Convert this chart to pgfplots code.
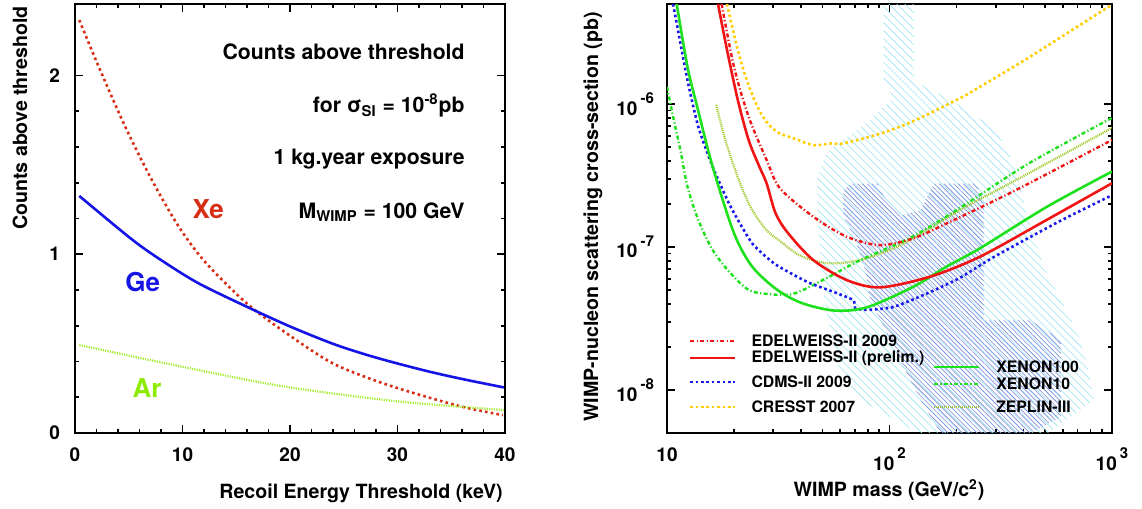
\documentclass[border=0pt]{standalone}
\usepackage{fontspec}
\setmainfont{TeX Gyre Heros}
\usepackage{pgfplots}
\pgfplotsset{compat=1.18}
\usetikzlibrary{patterns.meta}

\definecolor{xered}{RGB}{215,45,20}
\definecolor{geblue}{RGB}{20,20,230}
\definecolor{argreen}{RGB}{165,235,50}
\definecolor{arlabel}{RGB}{140,235,0}
\definecolor{edred}{RGB}{240,20,20}
\definecolor{cdblue}{RGB}{25,25,235}
\definecolor{cryellow}{RGB}{255,205,0}
\definecolor{xngreen}{RGB}{30,225,30}
\definecolor{zpolive}{RGB}{160,200,40}
\definecolor{hatchcyan}{RGB}{150,228,240}
\definecolor{hatchblue}{RGB}{125,135,222}

\tikzset{
  ed09/.style={edred, line width=1.2pt, dash pattern=on 2pt off 1.2pt on 0.6pt off 1.2pt},
  edpre/.style={edred, line width=1.3pt},
  cdms/.style={cdblue, line width=1.3pt, dash pattern=on 1.3pt off 1.4pt},
  cresst/.style={cryellow, line width=1.3pt, dash pattern=on 1.3pt off 1.4pt},
  xn100/.style={xngreen, line width=1.3pt},
  xn10/.style={xngreen, line width=1.2pt, dash pattern=on 2pt off 1.2pt on 0.6pt off 1.2pt},
  zep/.style={zpolive, line width=1.1pt, dash pattern=on 0.5pt off 0.5pt},
  legtext/.style={anchor=west, inner sep=0pt, font=\bfseries\fontsize{7.9}{8}\selectfont},
}

\pgfplotsset{
  panel/.style={
    scale only axis, anchor=south west,
    tick align=inside, tick pos=both,
    axis line style={line width=1.2pt},
    tick style={black, line width=0.9pt},
    major tick length=4pt, minor tick length=2.2pt,
    tick label style={font=\bfseries\fontsize{9.5}{10}\selectfont},
    clip=true,
  },
}

\newcommand{\expo}[1]{\,\raisebox{0.6em}{\fontsize{7.5}{8}\selectfont #1}}

\begin{document}
\begin{tikzpicture}[font=\bfseries]
\path[use as bounding box] (0,0) rectangle (571pt,254.5pt);

% left panel: counts above threshold
\begin{axis}[panel,
  at={(37.5pt,38pt)}, width=215pt, height=214.5pt,
  xmin=0, xmax=40, ymin=0, ymax=2.4,
  xtick={0,10,20,30,40}, ytick={0,1,2},
  minor x tick num=4, minor y tick num=4,
  /pgf/number format/assume math mode=true,
  xticklabel style={yshift=-4pt}, yticklabel style={xshift=-4pt},
]
\addplot[xered, line width=1.3pt, dash pattern=on 1.3pt off 1.6pt, smooth] coordinates {
  (0.4,2.31) (2.2,2.05) (4.7,1.71) (7.2,1.41) (9.7,1.15) (12.2,0.95) (16,0.724)
  (19.7,0.557) (24,0.389) (28.7,0.277) (33.4,0.19) (36.5,0.14) (39.8,0.10)};
\addplot[geblue, line width=1.3pt, smooth] coordinates {
  (0.4,1.326) (5.4,1.078) (8.5,0.948) (11.6,0.834) (16.1,0.703) (20,0.596) (24,0.499)
  (27.2,0.436) (30.3,0.384) (33.4,0.337) (36.5,0.296) (39.9,0.255)};
\addplot[argreen, line width=1.1pt, dash pattern=on 0.6pt off 0.6pt, smooth] coordinates {
  (0.4,0.492) (8.5,0.389) (17.8,0.277) (24,0.221) (30.3,0.175) (35,0.151) (39.9,0.128)};

\node[xered, font=\bfseries\fontsize{13}{13}\selectfont] at (axis cs:12.4,1.25) {Xe};
\node[geblue, font=\bfseries\fontsize{13}{13}\selectfont] at (axis cs:6.3,0.846) {Ge};
\node[arlabel, font=\bfseries\fontsize{13}{13}\selectfont] at (axis cs:6.7,0.252) {Ar};

\begin{scope}[every node/.style={anchor=east, font=\bfseries\fontsize{10.6}{11}\selectfont}]
\node at (axis cs:36.9,2.13) {Counts above threshold};
\node at (axis cs:36.9,1.83) {for σ\textsubscript{SI} = 10\textsuperscript{-8}pb};
\node at (axis cs:36.9,1.53) {1 kg.year exposure};
\node at (axis cs:36.9,1.235) {M\textsubscript{WIMP} = 100 GeV};
\end{scope}
\end{axis}

% right panel: exclusion limits
\begin{axis}[panel,
  at={(333.5pt,38pt)}, width=222.5pt, height=214.5pt,
  xmode=log, ymode=log,
  xmin=10, xmax=1000, ymin=5e-9, ymax=5e-6,
  xtick={10,100,1000}, xticklabels={10, 10\expo{2}, 10\expo{3}},
  ytick={1e-8,1e-7,1e-6}, yticklabels={10\expo{-8}, 10\expo{-7}, 10\expo{-6}},
  xticklabel style={yshift=-4pt}, yticklabel style={xshift=-3pt},
]
% model regions
\addplot[draw=none, pattern={Lines[angle=-45,distance=2.8pt,line width=0.3pt]}, pattern color=hatchcyan] coordinates {
  (94.0,5e-6) (128.2,5e-6) (128.2,1.45e-6) (182.5,1.10e-6) (294.1,6.8e-7) (340.1,4.7e-7)
  (377.2,3.05e-7) (418.4,1.61e-7) (494,7.19e-8) (589.3,4.24e-8) (702.9,2.49e-8)
  (779.8,1.45e-8) (829.8,8.51e-9) (514.9,5e-9) (133.6,5e-9) (74.0,8.51e-9)
  (58.9,1.45e-8) (50.9,4.24e-8) (47.4,1.61e-7) (47.4,3.05e-7) (52.6,4.7e-7)
  (74.0,6.8e-7) (104.2,1.10e-6) (94.0,1.45e-6)} -- cycle;
\addplot[draw=none, pattern={Lines[angle=-45,distance=1.7pt,line width=0.3pt]}, pattern color=hatchblue] coordinates {
  (62.1,2.48e-7) (66.7,2.77e-7) (88.3,2.77e-7) (94.0,2.29e-7) (112.1,1.66e-7)
  (137.9,1.80e-7) (157.8,2.77e-7) (244.1,2.77e-7) (265.1,2.11e-7) (265.1,3.07e-8)
  (431.5,3.07e-8) (589.3,2.23e-8) (589.3,6.48e-9) (431.5,5e-9) (169.7,5e-9)
  (137.9,8.51e-9) (101,2.23e-8) (82.1,4.24e-8) (78.0,6.85e-8) (70.3,1.11e-7)
  (62.1,1.66e-7)} -- cycle;

% limits
\addplot[cresst, smooth] coordinates {
  (18.61,5e-6) (20.8,2.39e-6) (23.27,1.35e-6) (26.2,8.8e-7) (29.1,7.0e-7) (32.3,6.2e-7)
  (37.7,5.7e-7) (45.5,5.15e-7) (54.7,5.3e-7) (62,5.3e-7) (90.8,6.2e-7) (128.3,7.6e-7)
  (208,1.1e-6) (255.4,1.32e-6) (418,2.09e-6) (739,3.67e-6) (1000,4.95e-6)};
\addplot[zep, smooth] coordinates {
  (16.65,9.84e-7) (17.93,6.24e-7) (19.32,4.28e-7) (21.6,2.64e-7) (24.15,1.81e-7)
  (28.03,1.31e-7) (32.2,1.1e-7) (39.7,8.7e-8) (52.6,7.7e-8) (74,8.1e-8) (107.6,1.0e-7)
  (152.3,1.35e-7) (212,1.85e-7) (418,3.25e-7) (1000,6.8e-7)};
\addplot[xn10, smooth] coordinates {
  (10,1.32e-6) (10.65,8.15e-7) (11.48,4.77e-7) (12.36,2.64e-7) (13.82,1.55e-7)
  (16.03,9.53e-8) (19.32,6.54e-8) (23.27,5.01e-8) (28.03,4.7e-8) (36.9,4.7e-8)
  (52.6,6.1e-8) (74,8.1e-8) (124,1.16e-7) (208,1.88e-7) (418,3.8e-7) (1000,8.0e-7)};
\addplot[ed09, smooth] coordinates {
  (17.6,5e-6) (20.0,1.82e-6) (23.27,8.15e-7) (28.03,4.06e-7) (32.2,2.57e-7)
  (45.4,1.63e-7) (64.2,1.18e-7) (90.8,1.03e-7) (128.3,1.15e-7) (180.6,1.46e-7)
  (360.6,2.45e-7) (1000,5.6e-7)};
\addplot[cdms, smooth, tension=0.35] coordinates {
  (10.65,5e-6) (12.36,1.47e-6) (13.82,6.94e-7) (16.03,3.65e-7) (19.32,1.91e-7)
  (24.15,1.06e-7) (30.2,7.7e-8) (37,6.4e-8) (44.1,5.57e-8) (58.3,4.74e-8) (68.8,4.24e-8)
  (70.3,3.73e-8) (79.6,3.63e-8) (104,3.8e-8) (148,4.74e-8) (208,6.1e-8) (294,8.5e-8)
  (589,1.53e-7) (1000,2.3e-7)};
\addplot[xn100, smooth] coordinates {
  (11.06,5.0e-6) (12.36,1.82e-6) (13.57,1.0e-6) (16.03,3.65e-7) (20.0,1.25e-7)
  (24.15,7.29e-8) (31.3,5.01e-8) (40.6,4.04e-8) (56.8,3.59e-8) (79.4,3.79e-8)
  (128.3,5.28e-8) (180.6,7.29e-8) (255.4,9.8e-8) (510,1.91e-7) (1000,3.37e-7)};
\addplot[edpre, smooth] coordinates {
  (16.96,5e-6) (18.61,2.39e-6) (20.8,1.07e-6) (23.27,5.6e-7) (26.0,3.65e-7)
  (28.03,2.79e-7) (30.76,1.72e-7) (35.0,1.25e-7) (45.4,8.11e-8) (64.2,5.87e-8)
  (90.8,5.22e-8) (152.3,6.2e-8) (255.4,8.56e-8) (510,1.55e-7) (1000,2.79e-7)};

% legend
\draw[ed09]   (rel axis cs:0.052,0.2145) -- (rel axis cs:0.153,0.2145);
\draw[edpre]  (rel axis cs:0.052,0.1748) -- (rel axis cs:0.153,0.1748);
\draw[cdms]   (rel axis cs:0.052,0.119) -- (rel axis cs:0.153,0.119);
\draw[cresst] (rel axis cs:0.052,0.061) -- (rel axis cs:0.153,0.061);
\node[legtext] at (rel axis cs:0.189,0.2145) {EDELWEISS-II 2009};
\node[legtext] at (rel axis cs:0.189,0.1748) {EDELWEISS-II (prelim.)};
\node[legtext] at (rel axis cs:0.189,0.119) {CDMS-II 2009};
\node[legtext] at (rel axis cs:0.189,0.061) {CRESST 2007};
\draw[xn100] (rel axis cs:0.600,0.1538) -- (rel axis cs:0.701,0.1538);
\draw[xn10]  (rel axis cs:0.600,0.1142) -- (rel axis cs:0.701,0.1142);
\draw[zep]   (rel axis cs:0.600,0.061) -- (rel axis cs:0.701,0.061);
\node[legtext] at (rel axis cs:0.739,0.1538) {XENON100};
\node[legtext] at (rel axis cs:0.739,0.1142) {XENON10};
\node[legtext] at (rel axis cs:0.739,0.061) {ZEPLIN-III};
\end{axis}

% axis titles
\node[rotate=90, font=\bfseries\fontsize{9.8}{10}\selectfont] at (10pt,195.5pt) {Counts above threshold};
\node[anchor=east, inner sep=0pt, font=\bfseries\fontsize{9.8}{10}\selectfont] at (251.5pt,8pt) {Recoil Energy Threshold (keV)};
\node[rotate=90, font=\bfseries\fontsize{9.8}{10}\selectfont] at (296.5pt,146pt) {WIMP-nucleon scattering cross-section (pb)};
\node[font=\bfseries\fontsize{9.8}{10}\selectfont] at (444.5pt,9.5pt) {WIMP mass (GeV/c\textsuperscript{2})};
\end{tikzpicture}
\end{document}
